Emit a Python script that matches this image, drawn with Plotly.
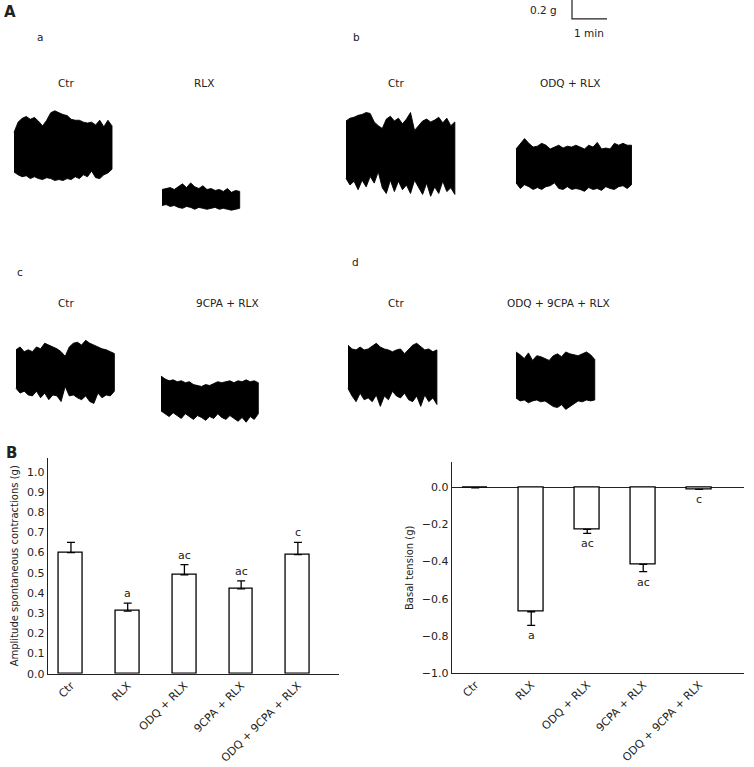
import numpy as np
import plotly.graph_objects as go

# ---- panel B data ----
groups = ["Ctr", "RLX", "ODQ + RLX", "9CPA + RLX", "ODQ + 9CPA + RLX"]
amplitude = [0.60, 0.31, 0.49, 0.42, 0.59]
amplitude_sem = [0.05, 0.04, 0.05, 0.04, 0.06]
amplitude_sig = ["", "a", "ac", "ac", "c"]
basal = [-0.004, -0.67, -0.227, -0.415, -0.012]
basal_sem = [0.0, 0.073, 0.022, 0.039, 0.0]
basal_sig = ["", "a", "ac", "ac", "c"]

# ---- panel A recordings: upper / lower envelope of the tension trace (g) ----
a_ctr_up = [0.54, 0.65, 0.69, 0.71, 0.68, 0.70, 0.66, 0.61, 0.67, 0.75, 0.77, 0.75, 0.73,
            0.72, 0.68, 0.67, 0.67, 0.65, 0.64, 0.65, 0.62, 0.67, 0.60, 0.67, 0.61]
a_ctr_lo = [0.12, 0.09, 0.07, 0.08, 0.05, 0.07, 0.05, 0.04, 0.06, 0.05, 0.03, 0.04, 0.03,
            0.05, 0.04, 0.07, 0.05, 0.09, 0.07, 0.13, 0.06, 0.05, 0.09, 0.11, 0.15]
a_rlx_up = [0.25, 0.26, 0.27, 0.25, 0.28, 0.31, 0.27, 0.32, 0.28, 0.26, 0.29, 0.25, 0.26,
            0.24, 0.25, 0.23, 0.26, 0.22, 0.24, 0.23]
a_rlx_lo = [0.08, 0.09, 0.07, 0.08, 0.06, 0.05, 0.07, 0.06, 0.04, 0.06, 0.05, 0.04, 0.05,
            0.06, 0.04, 0.05, 0.04, 0.03, 0.04, 0.05]
b_ctr_up = [0.82, 0.85, 0.86, 0.88, 0.89, 0.91, 0.90, 0.81, 0.77, 0.74, 0.84, 0.87, 0.82, 0.85,
            0.79, 0.84, 0.91, 0.72, 0.77, 0.82, 0.84, 0.81, 0.83, 0.86, 0.80, 0.85, 0.77, 0.81]
b_ctr_lo = [0.21, 0.14, 0.18, 0.09, 0.19, 0.12, 0.23, 0.16, 0.28, 0.11, 0.05, 0.19, 0.07, 0.18,
            0.09, 0.14, 0.05, 0.19, 0.11, 0.04, 0.16, 0.02, 0.12, 0.05, 0.18, 0.07, 0.11, 0.04]
b_odq_up = [0.47, 0.53, 0.58, 0.53, 0.49, 0.50, 0.53, 0.51, 0.47, 0.49, 0.51, 0.48, 0.50, 0.49,
            0.51, 0.49, 0.47, 0.51, 0.49, 0.54, 0.47, 0.48, 0.47, 0.53, 0.51, 0.53, 0.51, 0.51]
b_odq_lo = [0.11, 0.05, 0.09, 0.07, 0.04, 0.06, 0.04, 0.07, 0.08, 0.11, 0.05, 0.04, 0.07, 0.04,
            0.05, 0.04, 0.02, 0.06, 0.04, 0.05, 0.03, 0.07, 0.05, 0.04, 0.07, 0.08, 0.05, 0.09]
c_ctr_up = [0.60, 0.63, 0.58, 0.60, 0.58, 0.63, 0.61, 0.67, 0.65, 0.63, 0.61, 0.58, 0.53,
            0.63, 0.67, 0.68, 0.65, 0.70, 0.67, 0.65, 0.63, 0.61, 0.60, 0.58, 0.56]
c_ctr_lo = [0.19, 0.14, 0.16, 0.12, 0.11, 0.16, 0.09, 0.14, 0.07, 0.12, 0.11, 0.05, 0.21,
            0.11, 0.12, 0.09, 0.07, 0.11, 0.05, 0.03, 0.14, 0.09, 0.12, 0.11, 0.16]
c_cpa_up = [0.51, 0.48, 0.46, 0.47, 0.45, 0.46, 0.44, 0.45, 0.42, 0.41, 0.40, 0.42, 0.41,
            0.43, 0.45, 0.44, 0.45, 0.46, 0.44, 0.46, 0.45, 0.47, 0.45, 0.46, 0.44]
c_cpa_lo = [0.14, 0.11, 0.08, 0.12, 0.09, 0.06, 0.11, 0.08, 0.05, 0.09, 0.07, 0.04, 0.08,
            0.06, 0.11, 0.07, 0.05, 0.09, 0.06, 0.03, 0.07, 0.02, 0.08, 0.05, 0.11]
d_ctr_up = [0.67, 0.63, 0.62, 0.65, 0.62, 0.63, 0.66, 0.69, 0.65, 0.63, 0.62, 0.60, 0.62,
            0.63, 0.58, 0.63, 0.67, 0.69, 0.65, 0.62, 0.63, 0.60, 0.62]
d_ctr_lo = [0.21, 0.13, 0.07, 0.16, 0.09, 0.11, 0.07, 0.14, 0.02, 0.13, 0.09, 0.18, 0.13,
            0.11, 0.16, 0.09, 0.07, 0.13, 0.02, 0.14, 0.07, 0.11, 0.04]
d_all_up = [0.64, 0.61, 0.57, 0.63, 0.55, 0.60, 0.59, 0.57, 0.55, 0.60, 0.62, 0.59, 0.64,
            0.62, 0.61, 0.60, 0.62, 0.64, 0.61, 0.56]
d_all_lo = [0.15, 0.12, 0.13, 0.10, 0.12, 0.13, 0.11, 0.12, 0.09, 0.06, 0.05, 0.08, 0.03,
            0.06, 0.09, 0.12, 0.11, 0.13, 0.12, 0.13]
# recording length of each trace (min)
durations = {"a_ctr": 2.8, "a_rlx": 2.22, "b_ctr": 3.11, "b_odq": 3.3,
             "c_ctr": 2.81, "c_cpa": 2.78, "d_ctr": 2.54, "d_all": 2.25}
scale_g = 0.2
scale_min = 1.0

W, H = 754, 767
FONT = "DejaVu Sans"
PX_PER_MIN = 35.0
PX_PER_G = 95.0


def py(y):
    return 1 - y / H


def trace_shape(upper, lower, duration, x_px, base_px):
    t = x_px / PX_PER_MIN + np.linspace(0, duration, len(upper))
    base = -base_px / PX_PER_G
    xs = np.concatenate([t, t[::-1]])
    ys = base + np.concatenate([np.array(upper), np.array(lower)[::-1]])
    return go.Scatter(
        x=xs, y=ys, xaxis="x3", yaxis="y3", mode="lines", fill="toself",
        fillcolor="black", line=dict(color="black", width=0.9),
        hoverinfo="skip", showlegend=False,
    )


fig = go.Figure()

recs = [
    (a_ctr_up, a_ctr_lo, durations["a_ctr"], 14, 185),
    (a_rlx_up, a_rlx_lo, durations["a_rlx"], 162, 215),
    (b_ctr_up, b_ctr_lo, durations["b_ctr"], 346, 200),
    (b_odq_up, b_odq_lo, durations["b_odq"], 516, 195),
    (c_ctr_up, c_ctr_lo, durations["c_ctr"], 16, 410),
    (c_cpa_up, c_cpa_lo, durations["c_cpa"], 161, 428),
    (d_ctr_up, d_ctr_lo, durations["d_ctr"], 348, 412),
    (d_all_up, d_all_lo, durations["d_all"], 516, 416),
]
for up, lo, dur, x0, b0 in recs:
    fig.add_trace(trace_shape(up, lo, dur, x0, b0))

# scale bar
sx = 572 / PX_PER_MIN
sy = -19 / PX_PER_G
fig.add_trace(go.Scatter(
    x=[sx, sx, sx + scale_min], y=[sy + scale_g, sy, sy], xaxis="x3", yaxis="y3",
    mode="lines", line=dict(color="#222", width=1.2), hoverinfo="skip", showlegend=False,
))

# bar charts
fig.add_trace(go.Bar(
    x=groups, y=amplitude, width=0.42, xaxis="x", yaxis="y",
    marker=dict(color="white", line=dict(color="black", width=1.3)),
    error_y=dict(type="data", array=amplitude_sem, arrayminus=[0] * 5, symmetric=False,
                 color="black", thickness=1.3, width=4),
    showlegend=False,
))
fig.add_trace(go.Bar(
    x=groups, y=basal, width=0.43, xaxis="x2", yaxis="y2",
    marker=dict(color="white", line=dict(color="black", width=1.3)),
    error_y=dict(type="data", array=[0] * 5, arrayminus=basal_sem, symmetric=False,
                 color="black", thickness=1.3, width=4),
    showlegend=False,
))

ann = []
for g, v, e, s in zip(groups, amplitude, amplitude_sem, amplitude_sig):
    if s:
        ann.append(dict(x=g, y=v + e, xref="x", yref="y", text=s, showarrow=False,
                        yanchor="bottom", yshift=1, font=dict(size=11)))
for g, v, e, s in zip(groups, basal, basal_sem, basal_sig):
    if s:
        ann.append(dict(x=g, y=v - e, xref="x2", yref="y2", text=s, showarrow=False,
                        yanchor="top", yshift=-2, font=dict(size=11)))


def label(text, x, y, size=11, bold=False):
    ann.append(dict(x=x / W, y=py(y), xref="paper", yref="paper",
                    text=f"<b>{text}</b>" if bold else text,
                    showarrow=False, xanchor="center", yanchor="middle", font=dict(size=size)))


label("A", 10, 12, 15, True)
label("B", 11, 457, 15, True)
label("0.2 g", 543, 10, 10.5)
label("1 min", 589, 33, 10.5)
for t, x, y in [("a", 40, 37), ("b", 356, 37), ("c", 20, 275), ("d", 355, 264),
                ("Ctr", 66, 84), ("RLX", 204, 84), ("Ctr", 396, 84), ("ODQ + RLX", 570, 84),
                ("Ctr", 66, 306), ("9CPA + RLX", 227, 306), ("Ctr", 396, 306),
                ("ODQ + 9CPA + RLX", 558, 306)]:
    label(t, x, y, 10.5)

axis_common = dict(showline=True, linecolor="#222", linewidth=1.2, showgrid=False,
                   ticks="", tickfont=dict(size=11, color="#222"), fixedrange=True)

fig.update_layout(
    width=W, height=H,
    margin=dict(l=0, r=0, t=0, b=0),
    paper_bgcolor="white", plot_bgcolor="rgba(0,0,0,0)",
    font=dict(family=FONT, color="#222"),
    bargap=0,
    xaxis=dict(domain=[47.7 / W, 339.3 / W], anchor="y", range=[-0.41, 4.73],
               tickangle=-45, **axis_common),
    yaxis=dict(domain=[py(680), py(462)], anchor="x", range=[0, 1.069],
               tickvals=[i / 10 for i in range(11)], tickformat=".1f", zeroline=False,
               title=dict(text="Amplitude spontaneous contractions (g)", font=dict(size=10), standoff=6),
               **axis_common),
    xaxis2=dict(domain=[451.7 / W, 744 / W], anchor="y2", range=[-0.42, 4.8],
                tickangle=-45, **axis_common),
    yaxis2=dict(domain=[py(679.3), py(466.7)], anchor="x2", range=[-1.0, 0.133],
                tickvals=[-1.0, -0.8, -0.6, -0.4, -0.2, 0.0], tickformat=".1f",
                zeroline=True, zerolinecolor="#222", zerolinewidth=1.2,
                title=dict(text="Basal tension (g)", font=dict(size=10), standoff=6),
                **axis_common),
    xaxis3=dict(domain=[0, 1], anchor="y3", range=[0, W / PX_PER_MIN], visible=False,
                fixedrange=True),
    yaxis3=dict(domain=[0, 1], anchor="x3", range=[-H / PX_PER_G, 0], visible=False,
                fixedrange=True),
    annotations=ann,
)

# the page body keeps its default 8 px margin otherwise
fig.write_html("out.html", config={"displayModeBar": False},
               post_script="document.body.style.margin='0';")
